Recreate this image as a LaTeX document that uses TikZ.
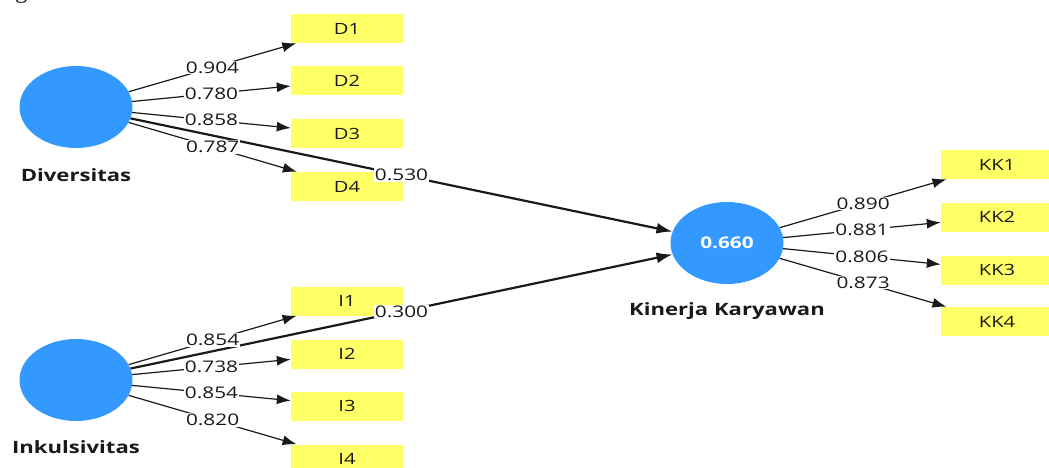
\documentclass[tikz,border=0pt]{standalone}
\usepackage{fontspec}
\setmainfont{Open Sans}[FakeStretch=1.3]
\usetikzlibrary{
  arrows.meta,
  shapes.geometric
}
\definecolor{lvblue}{RGB}{51,153,255}
\definecolor{indyellow}{RGB}{255,255,102}
\definecolor{pathgray}{RGB}{25,25,25}

\begin{document}
\begin{tikzpicture}[
  x=1pt, y=-1pt,
  latent/.style={
    ellipse,
    fill=lvblue,
    minimum width=113pt,
    minimum height=82pt,
    inner sep=0pt,
    text=white,
    font=\bfseries\fontsize{16}{18}\selectfont
  },
  indicator/.style={
    rectangle,
    fill=indyellow,
    minimum width=112pt,
    minimum height=29pt,
    inner sep=0pt,
    text=pathgray,
    font=\fontsize{15.5}{17}\selectfont
  },
  lvname/.style={font=\bfseries\fontsize{17}{19}\selectfont, text=pathgray},
  loading/.style={-{Latex[length=14pt,width=10pt]}, line width=1.2pt, pathgray},
  effect/.style={-{Latex[length=16pt,width=11pt]}, line width=2.2pt, pathgray},
  coef/.style={fill=white, inner sep=1pt, font=\fontsize{16}{18}\selectfont, text=pathgray}
]
\useasboundingbox (0,0) rectangle (1049,468);
\clip (0,0) rectangle (1049,468);

% line of text cut off above the figure
\node[anchor=base west, inner sep=0pt, font=\fontsize{16}{18}\selectfont, text=pathgray] (cuttext) at (3,0) {ngan untuk variabel};

% latent variables
\node[latent] (div) at (76,107) {};
\node[latent] (ink) at (76,380) {};
\node[latent] (kk) at (727,243) {0.660};
\node[lvname] at (76,175) {Diversitas};
\node[lvname] at (76,447) {Inkulsivitas};
\node[lvname] at (727,311) {Kinerja Karyawan};

% indicators
\node[indicator] (d1) at (347,28.5) {D1};
\node[indicator] (d2) at (347,80.5) {D2};
\node[indicator] (d3) at (347,133.5) {D3};
\node[indicator] (d4) at (347,186.5) {D4};
\node[indicator] (i1) at (347,301) {I1};
\node[indicator] (i2) at (347,354) {I2};
\node[indicator] (i3) at (347,406) {I3};
\node[indicator] (i4) at (347,459) {I4};
\node[indicator] (kk1) at (997,164.5) {KK1};
\node[indicator] (kk2) at (997,217) {KK2};
\node[indicator] (kk3) at (997,270) {KK3};
\node[indicator] (kk4) at (997,321.5) {KK4};

% structural paths
\draw[effect] (div) -- (kk) node[coef, pos=0.5]{0.530};
\draw[effect] (ink) -- (kk) node[coef, pos=0.5]{0.300};

% outer loadings
\draw[loading] (div) -- (d1) node[coef, pos=0.5]{0.904};
\draw[loading] (div) -- (d2) node[coef, pos=0.5]{0.780};
\draw[loading] (div) -- (d3) node[coef, pos=0.5]{0.858};
\draw[loading] (div) -- (d4) node[coef, pos=0.5]{0.787};
\draw[loading] (ink) -- (i1) node[coef, pos=0.5]{0.854};
\draw[loading] (ink) -- (i2) node[coef, pos=0.5]{0.738};
\draw[loading] (ink) -- (i3) node[coef, pos=0.5]{0.854};
\draw[loading] (ink) -- (i4) node[coef, pos=0.5]{0.820};
\draw[loading] (kk) -- (kk1) node[coef, pos=0.5]{0.890};
\draw[loading] (kk) -- (kk2) node[coef, pos=0.5]{0.881};
\draw[loading] (kk) -- (kk3) node[coef, pos=0.5]{0.806};
\draw[loading] (kk) -- (kk4) node[coef, pos=0.5]{0.873};
\end{tikzpicture}
\end{document}
